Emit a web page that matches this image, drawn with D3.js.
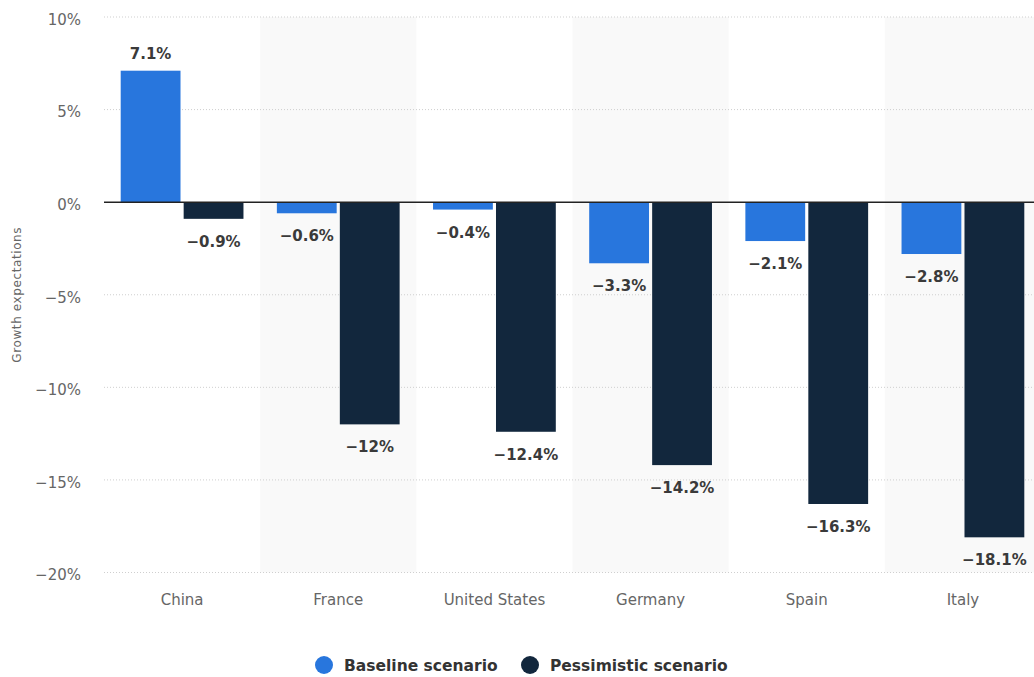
<!DOCTYPE html>
<html>
<head>
<meta charset="utf-8">
<script src="https://cdn.jsdelivr.net/npm/d3@7"></script>
<style>
  body { margin: 0; background: #fff; }
  svg { display: block; }
</style>
</head>
<body>
<svg id="chart" width="1034" height="677"></svg>
<script>
const categories = ["China", "France", "United States", "Germany", "Spain", "Italy"];
const baseline = [7.1, -0.6, -0.4, -3.3, -2.1, -2.8];
const pessimistic = [-0.9, -12, -12.4, -14.2, -16.3, -18.1];
const baselineLabels = ["7.1%", "−0.6%", "−0.4%", "−3.3%", "−2.1%", "−2.8%"];
const pessimisticLabels = ["−0.9%", "−12%", "−12.4%", "−14.2%", "−16.3%", "−18.1%"];
const yTicks = [10, 5, 0, -5, -10, -15, -20];
const yTickLabels = ["10%", "5%", "0%", "−5%", "−10%", "−15%", "−20%"];
const seriesNames = ["Baseline scenario", "Pessimistic scenario"];
const colors = ["#2876dd", "#12273d"];

const svg = d3.select("#chart");
const font = "'DejaVu Sans', sans-serif";

const x = d3.scaleBand().domain(categories).range([104, 1041]).paddingInner(0).paddingOuter(0);
const y = d3.scaleLinear().domain([-20, 10]).range([572.5, 17]);
const inner = d3.scaleBand().domain([0, 1]).range([16.7, x.bandwidth() - 16.7]).paddingInner(0.05);

// alternating bands
svg.append("g").selectAll("rect").data(categories.filter((d, i) => i % 2 === 1)).join("rect")
  .attr("x", d => x(d)).attr("width", x.bandwidth())
  .attr("y", y(10)).attr("height", y(-20) - y(10))
  .attr("fill", "#f9f9f9");

// gridlines
svg.append("g").selectAll("line").data(yTicks.filter(t => t !== 0)).join("line")
  .attr("x1", 104).attr("x2", 1041)
  .attr("y1", d => y(d)).attr("y2", d => y(d))
  .attr("stroke", "#cfcfcf").attr("stroke-width", 1).attr("stroke-dasharray", "1,2");

// y axis labels
const yAxis = d3.axisLeft(y).tickValues(yTicks).tickSize(0).tickPadding(0)
  .tickFormat((d) => yTickLabels[yTicks.indexOf(d)]);
const yg = svg.append("g").attr("transform", "translate(81,2.5)").call(yAxis);
yg.select(".domain").remove();
yg.selectAll("text").attr("font-family", font).attr("font-size", 15).attr("fill", "#666");

// y axis title
svg.append("text")
  .attr("transform", `translate(21,${(y(10) + y(-20)) / 2}) rotate(-90)`)
  .attr("text-anchor", "middle")
  .attr("font-family", font).attr("font-size", 12).attr("fill", "#666")
  .attr("letter-spacing", 0.6)
  .text("Growth expectations");

// bars
const series = [baseline, pessimistic];
const labels = [baselineLabels, pessimisticLabels];
series.forEach((vals, s) => {
  const g = svg.append("g");
  g.selectAll("rect").data(vals).join("rect")
    .attr("x", (d, i) => x(categories[i]) + inner(s))
    .attr("width", inner.bandwidth())
    .attr("y", d => y(Math.max(0, d)))
    .attr("height", d => Math.abs(y(d) - y(0)))
    .attr("fill", colors[s]);
  g.selectAll("text").data(vals).join("text")
    .attr("x", (d, i) => x(categories[i]) + inner(s) + inner.bandwidth() / 2)
    .attr("y", d => d >= 0 ? y(d) - 12 : y(d) + 28)
    .attr("text-anchor", "middle")
    .attr("font-family", font).attr("font-size", 15).attr("font-weight", "bold")
    .attr("fill", "#3a3a3a")
    .text((d, i) => labels[s][i]);
});

// zero line
svg.append("line").attr("x1", 104).attr("x2", 1041)
  .attr("y1", y(0)).attr("y2", y(0))
  .attr("stroke", "#222").attr("stroke-width", 1.5);

// x axis labels
const xAxis = d3.axisBottom(x).tickSize(0).tickPadding(0);
const xg = svg.append("g").attr("transform", `translate(0,${y(-20) + 32})`).call(xAxis);
xg.select(".domain").remove();
xg.selectAll("text").attr("font-family", font).attr("font-size", 15).attr("fill", "#666").attr("dy", 0);

// legend
const legend = svg.append("g");
const legendX = [324, 530];
seriesNames.forEach((name, i) => {
  legend.append("circle").attr("cx", legendX[i]).attr("cy", 665).attr("r", 9).attr("fill", colors[i]);
  legend.append("text").attr("x", legendX[i] + 20).attr("y", 671)
    .attr("font-family", font).attr("font-size", 15.5).attr("font-weight", "bold").attr("fill", "#333")
    .text(name);
});
</script>
</body>
</html>
